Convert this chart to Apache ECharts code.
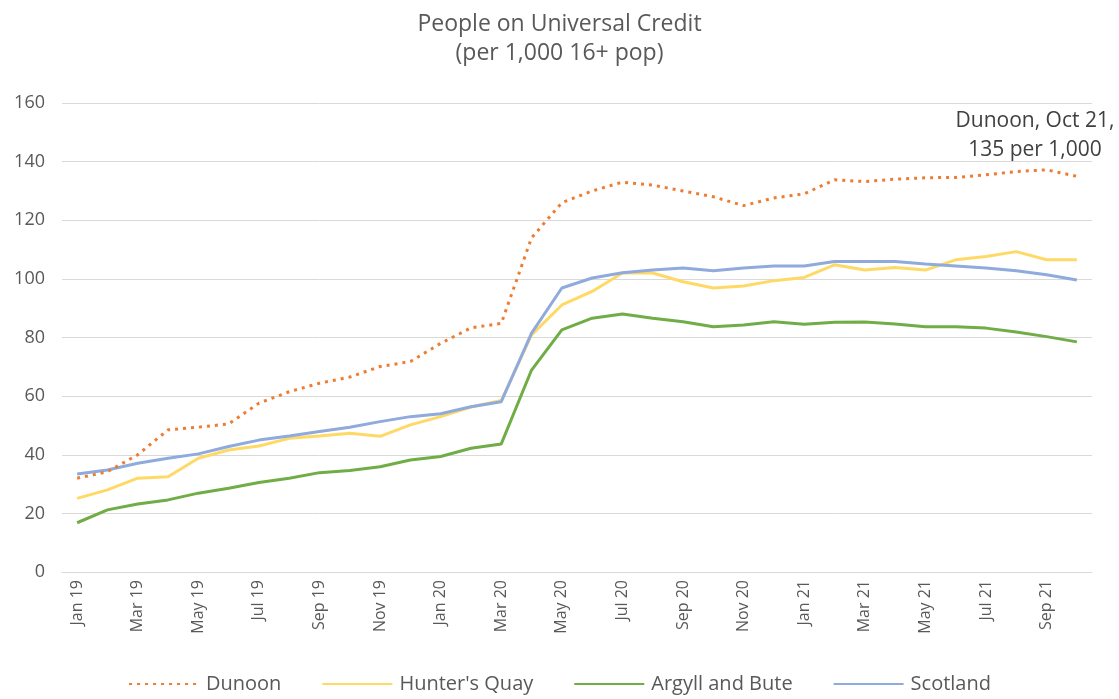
<!DOCTYPE html>
<html>
<head>
<meta charset="utf-8">
<script src="https://cdn.jsdelivr.net/npm/echarts@6/dist/echarts.min.js"></script>
<style>html,body{margin:0;padding:0;background:#fff}#c{width:1119px;height:699px}</style>
</head>
<body>
<div id="c"></div>
<script>
const months = ['Jan 19','Feb 19','Mar 19','Apr 19','May 19','Jun 19','Jul 19','Aug 19','Sep 19','Oct 19','Nov 19','Dec 19',
  'Jan 20','Feb 20','Mar 20','Apr 20','May 20','Jun 20','Jul 20','Aug 20','Sep 20','Oct 20','Nov 20','Dec 20',
  'Jan 21','Feb 21','Mar 21','Apr 21','May 21','Jun 21','Jul 21','Aug 21','Sep 21','Oct 21'];
const dunoon = [32,34.2,40,48.5,49.4,50.5,57.6,61.5,64.4,66.5,70.1,71.8,
  78,83.3,84.8,114,126,130,133,132,130,128,125,127.6,
  129,133.8,133.2,134,134.5,134.6,135.5,136.6,137.2,135];
const huntersQuay = [25.1,28,32,32.5,38.8,41.6,43,45.6,46.4,47.3,46.3,50.2,
  53,56.3,58.5,80.9,91.1,95.7,102,102,99,96.9,97.6,99.4,
  100.5,104.8,103,103.9,103,106.5,107.6,109.3,106.5,106.5];
const argyll = [16.8,21.2,23.2,24.6,26.9,28.6,30.5,32,33.9,34.6,35.9,38.2,
  39.4,42.2,43.7,68.9,82.6,86.6,88,86.6,85.4,83.7,84.3,85.4,
  84.5,85.2,85.3,84.6,83.7,83.7,83.2,81.9,80.3,78.5];
const scotland = [33.4,34.8,37.1,38.8,40.3,42.8,45,46.4,47.9,49.4,51.3,53,
  54,56.4,58.1,81.5,96.9,100.3,102.1,103,103.7,102.8,103.7,104.4,
  104.4,105.9,105.9,105.9,105.1,104.4,103.7,102.8,101.4,99.6];
const yTicks = {min: 0, max: 160, interval: 20};
const seriesNames = ['Dunoon', "Hunter's Quay", 'Argyll and Bute', 'Scotland'];
const annotation = 'Dunoon, Oct 21,\n135 per 1,000';

const FONT = '"Open Sans", "Noto Sans", sans-serif';
const chart = echarts.init(document.getElementById('c'), null, {renderer: 'canvas'});
chart.setOption({
  animation: false,
  backgroundColor: '#ffffff',
  title: {
    text: 'People on Universal Credit',
    subtext: '(per 1,000 16+ pop)',
    left: 'center',
    top: 8,
    itemGap: 6,
    textStyle: {fontFamily: FONT, fontSize: 23, fontWeight: 'normal', color: '#595959'},
    subtextStyle: {fontFamily: FONT, fontSize: 23, color: '#595959'}
  },
  grid: {left: 62, right: 27, top: 103, bottom: 127, containLabel: false},
  legend: {
    bottom: 0,
    left: 'center',
    itemWidth: 70,
    itemHeight: 12,
    itemGap: 40,
    itemStyle: {opacity: 0},
    textStyle: {fontFamily: FONT, fontSize: 20, color: '#595959', padding: [0,0,0,2]},
    data: seriesNames
  },
  xAxis: {
    type: 'category',
    data: months,
    boundaryGap: true,
    axisLine: {lineStyle: {color: '#d9d9d9', width: 1}},
    axisTick: {show: false},
    axisLabel: {rotate: 90, interval: 1, fontFamily: FONT, fontSize: 16, color: '#595959', margin: 8}
  },
  yAxis: {
    type: 'value',
    min: yTicks.min, max: yTicks.max, interval: yTicks.interval,
    axisLine: {show: false},
    axisTick: {show: false},
    splitLine: {lineStyle: {color: '#d9d9d9', width: 1}},
    axisLabel: {fontFamily: FONT, fontSize: 18, color: '#595959', margin: 17}
  },
  graphic: [{
    type: 'text',
    x: 1035,
    y: 107,
    style: {text: annotation, fontFamily: FONT, fontSize: 21, fill: '#404040', align: 'center', lineHeight: 29}
  }],
  series: [
    {name: seriesNames[0], type: 'line', data: dunoon, symbol: 'none',
     lineStyle: {color: '#ED7D31', width: 3, type: [3, 5], cap: 'butt'}, itemStyle: {color: '#ED7D31'}, z: 4},
    {name: seriesNames[1], type: 'line', data: huntersQuay, symbol: 'none',
     lineStyle: {color: '#FFD966', width: 3}, itemStyle: {color: '#FFD966'}, z: 2},
    {name: seriesNames[2], type: 'line', data: argyll, symbol: 'none',
     lineStyle: {color: '#70AD47', width: 3}, itemStyle: {color: '#70AD47'}, z: 3},
    {name: seriesNames[3], type: 'line', data: scotland, symbol: 'none',
     lineStyle: {color: '#8FAADC', width: 3}, itemStyle: {color: '#8FAADC'}, z: 3}
  ]
});
</script>
</body>
</html>
